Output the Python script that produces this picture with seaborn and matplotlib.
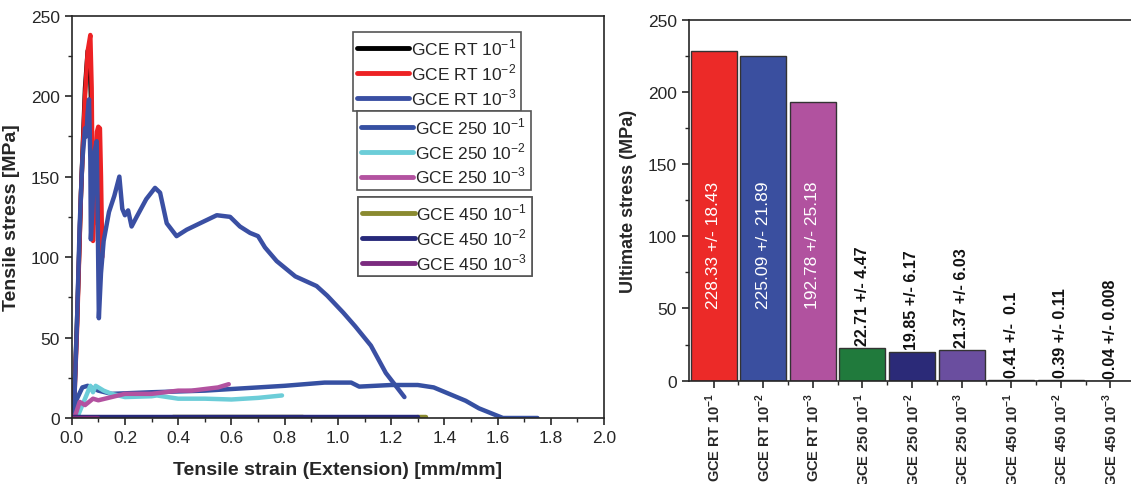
import numpy as np
import pandas as pd
import matplotlib.pyplot as plt
import seaborn as sns
from matplotlib.lines import Line2D
from matplotlib.ticker import MultipleLocator

sns.set_style("ticks")
plt.rcParams['font.family'] = ['Liberation Sans', 'DejaVu Sans']
plt.rcParams['mathtext.fontset'] = 'custom'
plt.rcParams['mathtext.rm'] = 'Liberation Sans'
plt.rcParams['mathtext.bf'] = 'Liberation Sans:bold'

# ---- stress-strain curves ----
rt1_x = [0, 0.01, 0.02, 0.035, 0.05, 0.06, 0.066, 0.072, 0.08, 0.09, 0.1, 0.108]
rt1_y = [0, 15, 60, 140, 205, 228, 230, 200, 120, 160, 178, 110]

rt2_x = [0, 0.01, 0.02, 0.035, 0.05, 0.06, 0.07, 0.075, 0.08, 0.088, 0.095, 0.1, 0.106, 0.11, 0.115]
rt2_y = [0, 12, 55, 140, 200, 228, 238, 205, 110, 150, 178, 181, 180, 150, 100]

rt3_x = [0, 0.01, 0.02, 0.03, 0.04, 0.05, 0.055, 0.06, 0.065, 0.07, 0.072, 0.078, 0.085, 0.094,
         0.098, 0.102, 0.11, 0.12, 0.14, 0.16, 0.179, 0.19, 0.2, 0.212, 0.225, 0.244, 0.28,
         0.313, 0.332, 0.357, 0.394, 0.432, 0.482, 0.545, 0.595, 0.632, 0.67, 0.7, 0.726,
         0.77, 0.84, 0.92, 0.96, 1.02, 1.065, 1.124, 1.18, 1.25]
rt3_y = [0, 10, 60, 120, 160, 180, 175, 190, 198, 160, 111, 130, 165, 172,
         120, 62, 90, 110, 128, 138, 150, 130, 126, 129, 119, 125, 136,
         143, 140, 121, 113, 117, 121, 126, 125, 119, 115, 113, 106,
         97.5, 88, 82, 76, 65.5, 57, 45, 28, 13]

c250_1_x = [0, 0.02, 0.04, 0.06, 0.1, 0.15, 0.3, 0.5, 0.6, 0.8, 0.95, 1.05, 1.08, 1.2, 1.3,
            1.36, 1.48, 1.53, 1.62, 1.75]
c250_1_y = [0, 12, 19, 20, 17, 15, 16, 17, 18, 20, 22, 22, 19.5, 20.5, 20.5,
            19, 10.7, 6, 0, 0]

c250_2_x = [0.02, 0.05, 0.07, 0.08, 0.09, 0.12, 0.15, 0.2, 0.3, 0.32, 0.4, 0.5, 0.6, 0.7, 0.79]
c250_2_y = [0, 12, 20, 16, 20, 17, 15, 13, 13.5, 14, 12, 12, 11.5, 12.5, 14]

c250_3_x = [0.01, 0.03, 0.05, 0.08, 0.1, 0.15, 0.2, 0.3, 0.4, 0.45, 0.55, 0.59]
c250_3_y = [0, 10, 8, 12, 11, 13, 15, 15, 17, 17, 19, 21]

c450_1_x = [0.38, 0.87, np.nan, 1.3, 1.33]
c450_1_y = [0.4, 0.4, np.nan, 0.4, 0.4]
c450_2_x = [0, 1.3]
c450_2_y = [0.39, 0.39]
c450_3_x = [0, 0.1]
c450_3_y = [0.04, 0.04]

# ---- ultimate stress bars ----
samples = ['GCE RT 10$^{\\mathbf{-1}}$', 'GCE RT 10$^{\\mathbf{-2}}$', 'GCE RT 10$^{\\mathbf{-3}}$',
           'GCE 250 10$^{\\mathbf{-1}}$', 'GCE 250 10$^{\\mathbf{-2}}$', 'GCE 250 10$^{\\mathbf{-3}}$',
           'GCE 450 10$^{\\mathbf{-1}}$', 'GCE 450 10$^{\\mathbf{-2}}$', 'GCE 450 10$^{\\mathbf{-3}}$']
uts = [228.33, 225.09, 192.78, 22.71, 19.85, 21.37, 0.41, 0.39, 0.04]
uts_err = ['18.43', '21.89', '25.18', '4.47', '6.17', '6.03', ' 0.1', '0.11', '0.008']
bar_colors = ['#ec2a28', '#3a4f9f', '#b1529f', '#207a3c', '#2b2a78', '#6a4e9f',
              '#888888', '#888888', '#888888']

fig = plt.figure(figsize=(11.31, 4.85), dpi=100)
ax1 = fig.add_axes([0.0634, 0.1361, 0.4707, 0.8295])
ax2 = fig.add_axes([0.609, 0.2130, 0.3947, 0.7443])

curves = [
    (rt1_x, rt1_y, '#000000', 'GCE RT 10$^{-1}$'),
    (rt2_x, rt2_y, '#ed2224', 'GCE RT 10$^{-2}$'),
    (rt3_x, rt3_y, '#3a4fa3', 'GCE RT 10$^{-3}$'),
    (c250_1_x, c250_1_y, '#3650a2', 'GCE 250 10$^{-1}$'),
    (c250_2_x, c250_2_y, '#6ccdd8', 'GCE 250 10$^{-2}$'),
    (c250_3_x, c250_3_y, '#b352a0', 'GCE 250 10$^{-3}$'),
    (c450_1_x, c450_1_y, '#8a8a30', 'GCE 450 10$^{-1}$'),
    (c450_2_x, c450_2_y, '#27297a', 'GCE 450 10$^{-2}$'),
    (c450_3_x, c450_3_y, '#7b2b7f', 'GCE 450 10$^{-3}$'),
]
handles = []
for x, y, col, lab in curves:
    d = pd.DataFrame({'x': x, 'y': y})
    ax1.plot(d['x'], d['y'], color=col, lw=3.2, solid_capstyle='round')
    handles.append(Line2D([], [], color=col, lw=3.5, label=lab))

ax1.set_xlim(0, 2.0)
ax1.set_ylim(0, 250)
ax1.xaxis.set_major_locator(MultipleLocator(0.2))
ax1.xaxis.set_minor_locator(MultipleLocator(0.1))
ax1.yaxis.set_major_locator(MultipleLocator(50))
ax1.yaxis.set_minor_locator(MultipleLocator(25))
ax1.tick_params(which='major', direction='out', length=5, width=1.2, labelsize=12.5)
ax1.tick_params(which='minor', direction='out', length=3, width=1.0)
ax1.set_xticks(np.arange(0, 2.01, 0.2))
ax1.set_xticklabels([f'{v:.1f}' for v in np.arange(0, 2.01, 0.2)])
ax1.set_xlabel('Tensile strain (Extension) [mm/mm]', fontsize=14, fontweight='bold', labelpad=12)
ax1.set_ylabel('Tensile stress [MPa]', fontsize=14, fontweight='bold', labelpad=8)
for s in ax1.spines.values():
    s.set_linewidth(1.2)

leg_pos = [(0.528, 0.959), (0.536, 0.763), (0.538, 0.549)]
for i, pos in enumerate(leg_pos):
    lg = ax1.legend(handles=handles[3 * i:3 * i + 3], loc='upper left', bbox_to_anchor=pos,
                    borderaxespad=0, fancybox=False, edgecolor='#555555', fontsize=12.5,
                    handlelength=3.0, handletextpad=0.1, labelspacing=0.25, borderpad=0.25,
                    framealpha=1)
    lg.get_frame().set_linewidth(1.2)
    ax1.add_artist(lg)

# bar chart
bdf = pd.DataFrame({'sample': samples, 'uts': uts})
sns.barplot(data=bdf, x='sample', y='uts', hue='sample', palette=bar_colors, legend=False,
            saturation=1, width=0.93, edgecolor='#333333', linewidth=1.0, ax=ax2)
for i, (v, e) in enumerate(zip(uts, uts_err)):
    txt = f'{v:.2f} +/- {e}'
    if v > 100:
        ax2.text(i, 50, txt, rotation=90, ha='center', va='bottom', color='white', fontsize=12.5)
    else:
        ax2.text(i, v + 2, txt, rotation=90, ha='center', va='bottom', color='#111111',
                 fontsize=11.5, fontweight='bold')

ax2.set_xlim(-0.5, 8.5)
ax2.set_ylim(0, 250)
ax2.yaxis.set_major_locator(MultipleLocator(50))
ax2.yaxis.set_minor_locator(MultipleLocator(25))
ax2.set_xticks(np.arange(0.5, 8, 1), minor=True)
ax2.tick_params(axis='x', which='major', rotation=90, labelsize=10.5, pad=3)
ax2.tick_params(which='major', direction='out', length=5, width=1.2)
ax2.tick_params(which='minor', direction='out', length=3, width=1.0)
ax2.tick_params(axis='y', labelsize=12.5)
for lbl in ax2.get_xticklabels():
    lbl.set_fontweight('bold')
ax2.set_xlabel('')
ax2.set_ylabel('Ultimate stress (MPa)', fontsize=13, fontweight='bold', labelpad=8)
for s in ax2.spines.values():
    s.set_linewidth(1.2)

fig.savefig('out.png', dpi=100)
